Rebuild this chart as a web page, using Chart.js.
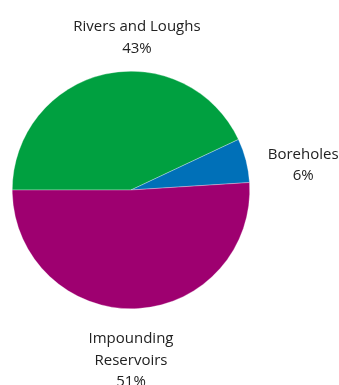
<!DOCTYPE html>
<html>
<head>
<meta charset="utf-8">
<style>
html,body{margin:0;padding:0;background:#fff;}
#wrap{width:339px;height:385px;position:relative;}
</style>
<script src="https://cdn.jsdelivr.net/npm/chart.js@4.4.0/dist/chart.umd.min.js"></script>
</head>
<body>
<div id="wrap"><canvas id="c" width="339" height="385"></canvas></div>
<script>
const categories = ["Rivers and Loughs", "Boreholes", "Impounding Reservoirs"];
const labelLines = [["Rivers and Loughs"], ["Boreholes"], ["Impounding", "Reservoirs"]];
const values = [43, 6, 51];
const colors = ["#00A040", "#0070B8", "#9E0070"];
// label anchor offsets relative to pie centre, in units of radius
const labelOffsets = [[0.05, -1.282], [1.45, -0.207], [0.0, 1.435]];

const labelPlugin = {
  id: 'sliceLabels',
  afterDraw(chart) {
    const ctx = chart.ctx;
    const meta = chart.getDatasetMeta(0);
    const total = values.reduce((a, b) => a + b, 0);
    ctx.save();
    ctx.font = '15px "Open Sans", sans-serif';
    ctx.fillStyle = '#222';
    ctx.textAlign = 'center';
    ctx.textBaseline = 'middle';
    meta.data.forEach((arc, i) => {
      const r = arc.outerRadius;
      const cx = arc.x + labelOffsets[i][0] * r;
      const cy = arc.y + labelOffsets[i][1] * r;
      const lines = labelLines[i].concat([Math.round(values[i] / total * 100) + '%']);
      const lh = 21.3;
      const y0 = cy - (lines.length - 1) * lh / 2;
      lines.forEach((t, k) => ctx.fillText(t, cx, y0 + k * lh));
    });
    ctx.restore();
  }
};

new Chart(document.getElementById('c'), {
  type: 'pie',
  data: {
    labels: categories,
    datasets: [{
      data: values,
      backgroundColor: colors,
      borderColor: 'rgba(255,255,255,0.6)',
      borderWidth: 0.5
    }]
  },
  options: {
    responsive: false,
    animation: false,
    rotation: -90,
    layout: { padding: { left: 12, right: 89, top: 71, bottom: 76 } },
    plugins: { legend: { display: false }, tooltip: { enabled: false } }
  },
  plugins: [labelPlugin]
});
</script>
</body>
</html>
